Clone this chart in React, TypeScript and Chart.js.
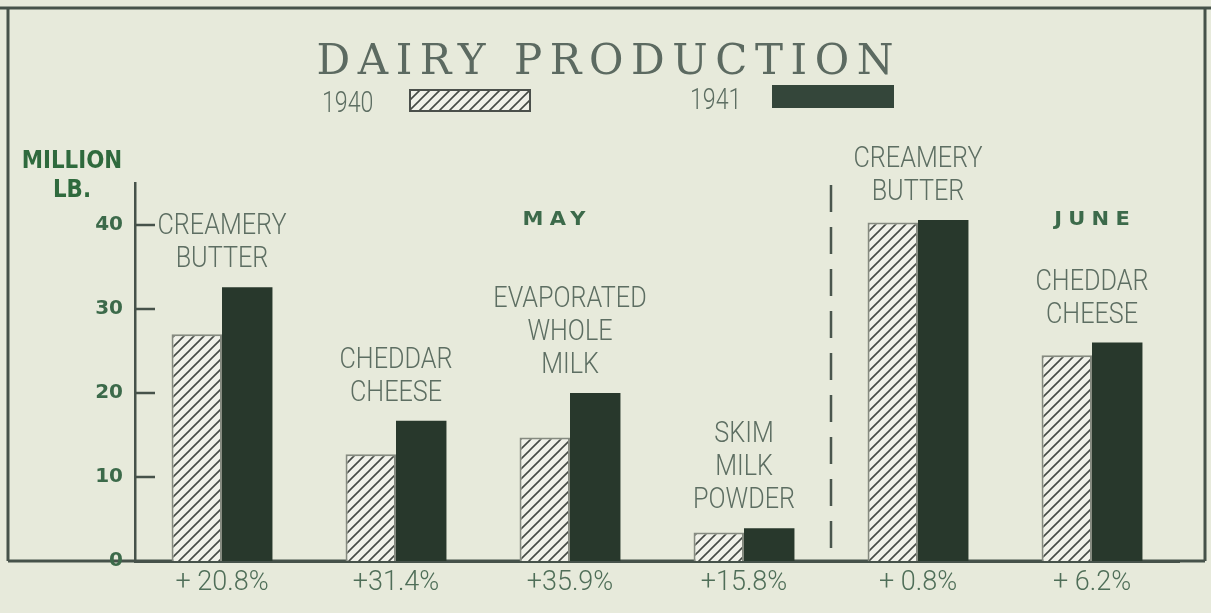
import React, { useEffect, useRef } from 'react';
import { Chart, registerables } from 'chart.js';

Chart.register(...registerables);

// ---------- data ----------
const productLines: string[][] = [
  ['CREAMERY', 'BUTTER'],
  ['CHEDDAR', 'CHEESE'],
  ['EVAPORATED', 'WHOLE', 'MILK'],
  ['SKIM', 'MILK', 'POWDER'],
  ['CREAMERY', 'BUTTER'],
  ['CHEDDAR', 'CHEESE'],
];
const months = ['MAY', 'MAY', 'MAY', 'MAY', 'JUNE', 'JUNE'];
const monthLabelAnchor = [2, 5];
const changeLabels = ['+ 20.8%', '+31.4%', '+35.9%', '+15.8%', '+ 0.8%', '+ 6.2%'];
const values1940 = [27.0, 12.7, 14.7, 3.4, 40.3, 24.5];
const values1941 = [32.6, 16.7, 20.0, 3.9, 40.6, 26.0];
const seriesNames = ['1940', '1941'];
const yTicks = [0, 10, 20, 30, 40];
const yMax = 45;
const titleText = 'DAIRY PRODUCTION';
const unitLines = ['MILLION', 'LB.'];

// ---------- styles ----------
const BG = '#e7eadb';
const FRAME = '#46524a';
const DARK_BAR = '#28382c';
const TEXT_GREY = '#5d6e62';
const TEXT_GREEN = '#2f6a3d';
const TICK_GREEN = '#3c6a4a';
const CONDENSED = '"DejaVu Sans Condensed", "DejaVu Sans", sans-serif';

function makeHatch(): CanvasPattern | string {
  const c = document.createElement('canvas');
  const s = 10;
  c.width = s;
  c.height = s;
  const g = c.getContext('2d');
  if (!g) return '#ddd';
  g.fillStyle = '#f0f1e9';
  g.fillRect(0, 0, s, s);
  g.strokeStyle = '#454a45';
  g.lineWidth = 1.6;
  g.beginPath();
  g.moveTo(-2, s + 2);
  g.lineTo(s + 2, -2);
  g.moveTo(-2, 2);
  g.lineTo(2, -2);
  g.moveTo(s - 2, s + 2);
  g.lineTo(s + 2, s - 2);
  g.stroke();
  return g.createPattern(c, 'repeat') || '#ddd';
}

function drawText(
  ctx: CanvasRenderingContext2D,
  s: string,
  x: number,
  y: number,
  font: string,
  color: string,
  align: CanvasTextAlign = 'center',
  sx = 1,
  spacing = 0
) {
  ctx.save();
  ctx.font = font;
  ctx.fillStyle = color;
  ctx.textAlign = align;
  ctx.textBaseline = 'alphabetic';
  (ctx as any).letterSpacing = spacing + 'px';
  ctx.translate(x, y);
  ctx.scale(sx, 1);
  ctx.fillText(s, align === 'center' ? spacing / 2 : 0, 0);
  ctx.restore();
}

export default function App() {
  const ref = useRef<HTMLCanvasElement | null>(null);

  useEffect(() => {
    document.body.style.margin = '0';
    const canvas = ref.current;
    if (!canvas) return;
    const hatch = makeHatch();

    const decor = {
      id: 'decor',
      beforeDraw(chart: any) {
        const { ctx, width, height, chartArea } = chart;
        ctx.save();
        ctx.fillStyle = BG;
        ctx.fillRect(0, 0, width, height);
        // frame
        ctx.strokeStyle = FRAME;
        ctx.lineWidth = 3;
        ctx.beginPath();
        ctx.moveTo(0, 8);
        ctx.lineTo(width, 8);
        ctx.moveTo(8, 8);
        ctx.lineTo(8, chartArea.bottom);
        ctx.moveTo(width - 6, 8);
        ctx.lineTo(width - 6, chartArea.bottom);
        ctx.moveTo(8, chartArea.bottom);
        ctx.lineTo(width - 6, chartArea.bottom);
        ctx.stroke();
        ctx.restore();
      },
      afterDraw(chart: any) {
        const { ctx, chartArea, scales } = chart;
        const xs = scales.x;
        const ys = scales.y;
        ctx.save();

        // inward tick marks on y axis
        ctx.strokeStyle = FRAME;
        ctx.lineWidth = 2.5;
        yTicks.forEach((v) => {
          if (v === 0) return;
          const y = ys.getPixelForValue(v);
          ctx.beginPath();
          ctx.moveTo(chartArea.left, y);
          ctx.lineTo(chartArea.left + 20, y);
          ctx.stroke();
        });

        // dashed divider between months
        for (let i = 1; i < months.length; i++) {
          if (months[i] !== months[i - 1]) {
            const x = xs.getPixelForValue(i - 0.5);
            ctx.save();
            ctx.setLineDash([27, 15]);
            ctx.lineWidth = 2.5;
            ctx.strokeStyle = '#4a564d';
            ctx.beginPath();
            ctx.moveTo(x, chartArea.top + 2);
            ctx.lineTo(x, chartArea.bottom);
            ctx.stroke();
            ctx.restore();
          }
        }

        // product labels above bars
        productLines.forEach((lines, i) => {
          const top = ys.getPixelForValue(Math.max(values1940[i], values1941[i]));
          const x = xs.getPixelForValue(i);
          const lh = 33;
          lines.forEach((ln, k) => {
            const y = top - 20 - (lines.length - 1 - k) * lh;
            drawText(ctx, ln, x, y, `300 30px Roboto`, TEXT_GREY, 'center', 0.84, 0);
          });
        });

        // month labels
        monthLabelAnchor.forEach((idx) => {
          const x = xs.getPixelForValue(idx) - (idx === 2 ? 16 : 0);
          const y = ys.getPixelForValue(40);
          drawText(ctx, months[idx], x, y, `bold 20px "DejaVu Sans"`, TICK_GREEN, 'center', 1.05, 6);
        });

        // title
        const tFont = '42px "DejaVu Serif", "Liberation Serif", serif';
        ctx.font = tFont;
        const tw = ctx.measureText(titleText).width;
        const sp = Math.max(0, (577 - tw) / (titleText.length - 1));
        drawText(ctx, titleText, 605, 74, tFont, '#5c6a61', 'center', 1, sp);

        // legend
        const legend = [
          { tx: 322, ty: 112, bx: 410, by: 90, fill: hatch, border: '#4b504b' },
          { tx: 690, ty: 109, bx: 773, by: 86, fill: '#34463a', border: '#34463a' },
        ];
        legend.forEach((l, k) => {
          drawText(ctx, seriesNames[k], l.tx, l.ty, `300 29px Roboto`, TEXT_GREY, 'left', 0.8, 0);
          ctx.fillStyle = l.fill as any;
          ctx.fillRect(l.bx, l.by, 120, 21);
          ctx.strokeStyle = l.border;
          ctx.lineWidth = 2;
          ctx.strokeRect(l.bx, l.by, 120, 21);
        });

        // unit label
        drawText(ctx, unitLines[0], 72, 168, `bold 25px ${CONDENSED}`, TEXT_GREEN, 'center', 0.95, 0);
        drawText(ctx, unitLines[1], 72, 197, `bold 25px ${CONDENSED}`, TEXT_GREEN, 'center', 0.95, 0);

        ctx.restore();
      },
    };

    const chart = new Chart(canvas, {
      type: 'bar',
      data: {
        labels: changeLabels,
        datasets: [
          {
            label: seriesNames[0],
            data: values1940,
            backgroundColor: hatch as any,
            borderColor: '#858a80',
            borderWidth: 2,
            barPercentage: 1,
            categoryPercentage: 0.58,
          },
          {
            label: seriesNames[1],
            data: values1941,
            backgroundColor: DARK_BAR,
            borderColor: DARK_BAR,
            borderWidth: 0,
            barPercentage: 1,
            categoryPercentage: 0.58,
          },
        ],
      },
      options: {
        responsive: false,
        animation: false,
        layout: { padding: { left: 0, right: 32, top: 183, bottom: 0 } },
        plugins: {
          legend: { display: false },
          title: { display: false },
          tooltip: { enabled: false },
        },
        scales: {
          x: {
            grid: { display: false, drawTicks: false },
            border: { display: true, color: FRAME, width: 3 },
            ticks: {
              color: '#4f6e58',
              font: { family: 'Roboto', size: 27, weight: 300 as any },
              padding: 6,
              maxRotation: 0,
              autoSkip: false,
            },
            afterFit: (s: any) => {
              s.height = 52;
            },
          },
          y: {
            min: 0,
            max: yMax,
            grid: { display: false, drawTicks: false },
            border: { display: true, color: FRAME, width: 2.5 },
            ticks: {
              stepSize: 10,
              color: TICK_GREEN,
              font: { family: '"DejaVu Sans"', size: 20, weight: 'bold' },
              padding: 12,
            },
            afterBuildTicks: (s: any) => {
              s.ticks = s.ticks.filter((t: any) => yTicks.includes(t.value));
            },
            afterFit: (s: any) => {
              s.width = 135;
            },
          },
        },
      },
      plugins: [decor],
    });

    return () => {
      chart.destroy();
    };
  }, []);

  return (
    <div style={{ width: 1211, height: 613 }}>
      <canvas ref={ref} width={1211} height={613} style={{ display: 'block', width: 1211, height: 613 }} />
    </div>
  );
}
